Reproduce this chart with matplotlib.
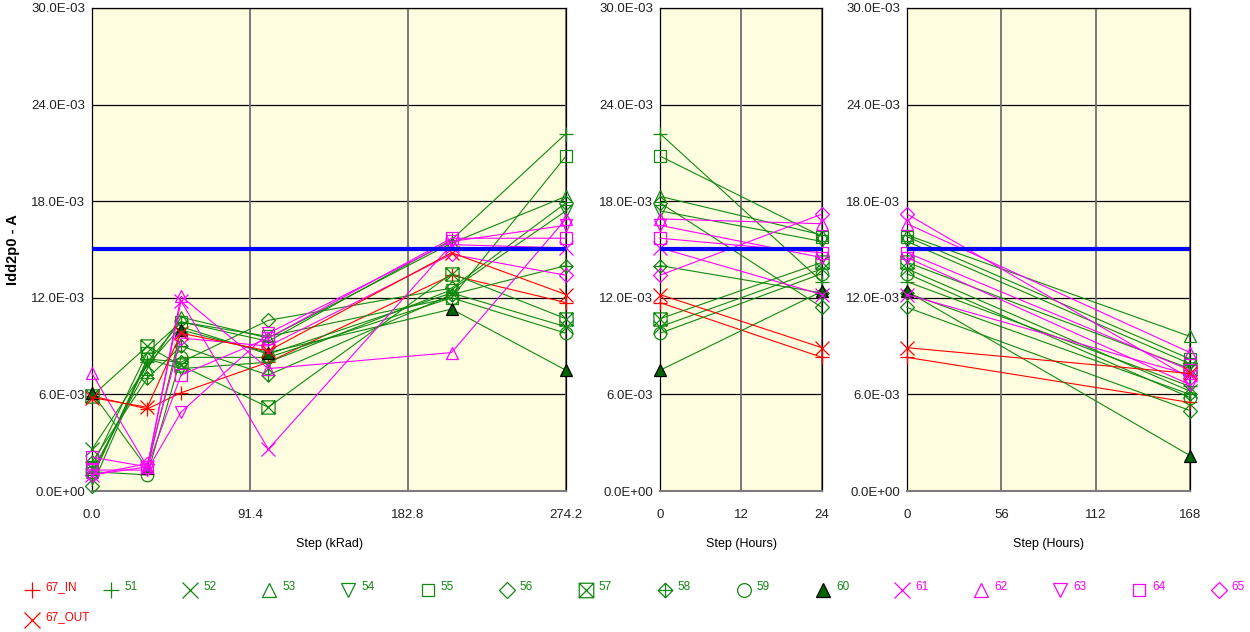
import matplotlib
matplotlib.use("Agg")
import matplotlib.pyplot as plt
import numpy as np
from matplotlib.path import Path
from matplotlib.lines import Line2D

plt.rcParams['font.family'] = ['Liberation Sans', 'DejaVu Sans']

# ---------------- data (values in mA) ----------------
series_names = ["67_IN", "51", "52", "53", "54", "55", "56", "57", "58", "59", "60",
                "61", "62", "63", "64", "65", "67_OUT"]

x_krad = [0.0, 32.0, 51.5, 102.0, 208.0, 274.2]
x_anneal24 = [0, 24]
x_anneal168 = [0, 168]

krad_vals = {
    "67_IN":  [5.9, 5.1, 6.1, 8.0, 13.4, 11.7],
    "51":     [1.0, 8.0, 10.5, 9.3, 15.6, 22.2],
    "52":     [2.6, 7.8, 10.2, 8.5, 12.3, 10.2],
    "53":     [1.2, 7.6, 10.8, 9.5, 15.4, 18.3],
    "54":     [0.8, 8.2, 7.6, 8.0, 12.5, 17.4],
    "55":     [1.5, 8.6, 10.5, 9.6, 12.0, 20.8],
    "56":     [0.3, 8.2, 8.0, 10.6, 12.6, 17.9],
    "57":     [5.9, 9.0, 7.8, 5.2, 13.5, 10.7],
    "58":     [1.8, 7.0, 9.0, 7.2, 12.2, 14.0],
    "59":     [1.2, 1.0, 8.3, 8.3, 12.0, 9.8],
    "60":     [6.1, 1.4, 10.0, 8.6, 11.3, 7.5],
    "61":     [1.0, 1.5, 11.8, 2.6, 15.3, 15.1],
    "62":     [7.3, 1.5, 12.1, 7.6, 8.6, 16.9],
    "63":     [1.3, 1.3, 4.9, 9.8, 15.5, 16.5],
    "64":     [2.1, 1.5, 7.2, 9.5, 15.7, 15.7],
    "65":     [1.0, 1.7, 9.5, 9.0, 14.7, 13.4],
    "67_OUT": [5.8, 5.2, 9.8, 8.7, 14.8, 12.2],
}

after24_vals = {
    "67_IN": 8.3, "51": 13.0, "52": 13.8, "53": 15.9, "54": 15.5, "55": 15.8,
    "56": 11.4, "57": 14.2, "58": 12.3, "59": 13.5, "60": 12.4, "61": 12.2,
    "62": 16.6, "63": 14.5, "64": 14.8, "65": 17.2, "67_OUT": 8.9,
}

after168_vals = {
    "67_IN": 5.5, "51": 6.5, "52": 6.2, "53": 9.6, "54": 7.9, "55": 8.2,
    "56": 5.0, "57": 7.6, "58": 6.0, "59": 5.8, "60": 2.2, "61": 7.2,
    "62": 8.6, "63": 6.6, "64": 7.5, "65": 7.0, "67_OUT": 7.3,
}

spec_limit = 15.0  # mA

# ---------------- styles ----------------
boxed_x = Path([(-1, -1), (1, -1), (1, 1), (-1, 1), (-1, -1), (-1, -1), (1, 1), (-1, 1), (1, -1)],
               [Path.MOVETO, Path.LINETO, Path.LINETO, Path.LINETO, Path.CLOSEPOLY,
                Path.MOVETO, Path.LINETO, Path.MOVETO, Path.LINETO])
diamond_plus = Path([(0, -1), (1, 0), (0, 1), (-1, 0), (0, -1), (-1, 0), (1, 0), (0, -1), (0, 1)],
                    [Path.MOVETO, Path.LINETO, Path.LINETO, Path.LINETO, Path.CLOSEPOLY,
                     Path.MOVETO, Path.LINETO, Path.MOVETO, Path.LINETO])

RED = "#ff0000"
GRN = "#118811"
MAG = "#ff00ff"

styles = {
    "67_IN": (RED, "+", None), "51": (GRN, "+", None), "52": (GRN, "x", None),
    "53": (GRN, "^", None), "54": (GRN, "v", None), "55": (GRN, "s", None),
    "56": (GRN, "D", None), "57": (GRN, boxed_x, None), "58": (GRN, diamond_plus, None),
    "59": (GRN, "o", None), "60": (GRN, "^", "#006400"),
    "61": (MAG, "x", None), "62": (MAG, "^", None), "63": (MAG, "v", None),
    "64": (MAG, "s", None), "65": (MAG, "D", None), "67_OUT": (RED, "x", None),
}


def msize(m):
    if m == "D":
        return 7
    if m == "s":
        return 8.5
    if m in ("+", "x"):
        return 10
    if isinstance(m, Path):
        return 9.5
    return 9


def plot_series(ax, name, xs, ys):
    col, m, fill = styles[name]
    kw = dict(color=col, lw=0.8, marker=m, markersize=msize(m), markeredgewidth=0.9,
              clip_on=False, zorder=3)
    if fill is None:
        kw["markerfacecolor"] = "none"
    else:
        kw["markerfacecolor"] = fill
        kw["markeredgecolor"] = "black"
    ax.plot(xs, np.array(ys) * 1e-3, **kw)


W, H = 1250, 632
fig = plt.figure(figsize=(W / 100, H / 100), dpi=100)


def add_axes(px_left, px_right, px_top=8, px_bottom=491):
    return fig.add_axes([px_left / W, 1 - px_bottom / H, (px_right - px_left) / W,
                         (px_bottom - px_top) / H])


ax1 = add_axes(92, 566)
ax2 = add_axes(660, 822)
ax3 = add_axes(907, 1190)

yticks = [0, 6e-3, 12e-3, 18e-3, 24e-3, 30e-3]
ylabels = ["0.0E+00", "6.0E-03", "12.0E-03", "18.0E-03", "24.0E-03", "30.0E-03"]

panels = [
    (ax1, (0, 274.2), [0, 91.4, 182.8, 274.2], ["0.0", "91.4", "182.8", "274.2"], "Step (kRad)"),
    (ax2, (0, 24), [0, 12, 24], ["0", "12", "24"], "Step (Hours)"),
    (ax3, (0, 168), [0, 56, 112, 168], ["0", "56", "112", "168"], "Step (Hours)"),
]

for ax, xl, xt, xtl, xlab in panels:
    ax.set_facecolor("#fffde0")
    ax.set_xlim(*xl)
    ax.set_ylim(0, 30e-3)
    ax.set_xticks(xt)
    ax.set_xticklabels(xtl)
    ax.set_yticks(yticks)
    ax.set_yticklabels(ylabels)
    ax.tick_params(length=0, labelsize=9.5, colors="#222222")
    ax.tick_params(axis="y", pad=5)
    ax.tick_params(axis="x", pad=13)
    for y in yticks:
        ax.axhline(y, color="black", lw=0.9, zorder=1)
    for x in xt:
        ax.axvline(x, color="#6e6e6e", lw=1.3, zorder=1)
    for s in ax.spines.values():
        s.set_color("black")
        s.set_linewidth(0.9)
    ax.spines["bottom"].set_color("#7a7a7a")
    ax.spines["bottom"].set_linewidth(1.5)
    ax.set_xlabel(xlab, fontsize=9, labelpad=12)
    ax.axhline(spec_limit * 1e-3, color="#0000ff", lw=3, zorder=4)

ax1.set_ylabel("Idd2p0 - A", fontsize=10.5, fontweight="bold")
ax1.yaxis.set_label_coords(-0.152, 0.5)

for name in series_names:
    k = krad_vals[name]
    plot_series(ax1, name, x_krad, k)
    plot_series(ax2, name, x_anneal24, [k[-1], after24_vals[name]])
    plot_series(ax3, name, x_anneal168, [after24_vals[name], after168_vals[name]])

# ---------------- legend (uniform grid like the reference) ----------------
order = series_names[:-1]
for i, name in enumerate(order):
    col, m, fill = styles[name]
    px = 32 + i * 79.1
    py = 590
    kw = dict(color=col, marker=m, markersize=msize(m) * 1.1, markeredgewidth=0.9, linestyle="none")
    if fill is None:
        kw["markerfacecolor"] = "none"
    else:
        kw["markerfacecolor"] = fill
        kw["markeredgecolor"] = "black"
    fig.add_artist(Line2D([px / W], [1 - py / H], transform=fig.transFigure, **kw))
    fig.text((px + 13) / W, 1 - (py - 3) / H, name, color=col, fontsize=8.5, va="center", ha="left")

name = "67_OUT"
col, m, fill = styles[name]
fig.add_artist(Line2D([32 / W], [1 - 620 / H], transform=fig.transFigure, color=col, marker=m,
                      markersize=msize(m) * 1.1, markeredgewidth=0.9, linestyle="none"))
fig.text(45 / W, 1 - 617 / H, name, color=col, fontsize=8.5, va="center", ha="left")

fig.savefig("out.png", dpi=100)
